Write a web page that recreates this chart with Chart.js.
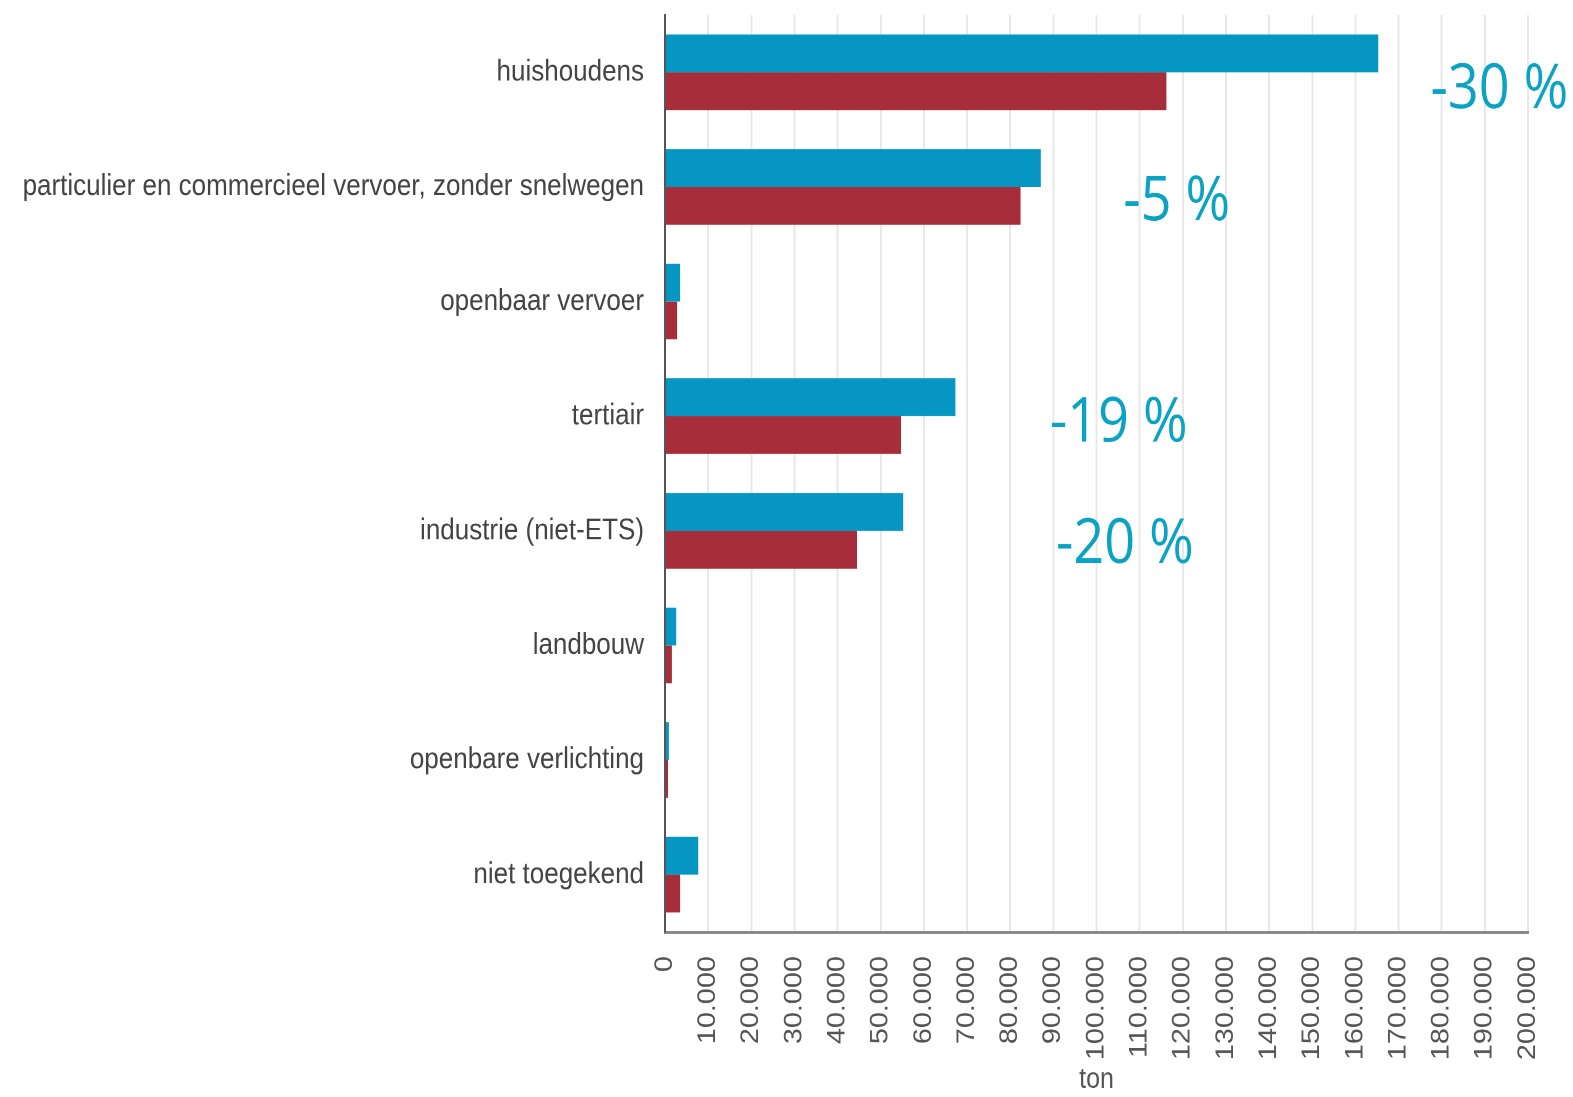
<!DOCTYPE html>
<html>
<head>
<meta charset="utf-8">
<script src="https://cdn.jsdelivr.net/npm/chart.js@4/dist/chart.umd.min.js"></script>
<style>
  html, body { margin: 0; padding: 0; background: #fff; overflow: hidden; }
  #wrap { position: absolute; left: 0; top: 0; width: 1573px; height: 954px;
          transform-origin: 0 0; transform: scaleY(1.1499); }
</style>
</head>
<body>
<div id="wrap"><canvas id="c"></canvas></div>
<script>
// ---- data ----
const categories = [
  "huishoudens",
  "particulier en commercieel vervoer, zonder snelwegen",
  "openbaar vervoer",
  "tertiair",
  "industrie (niet-ETS)",
  "landbouw",
  "openbare verlichting",
  "niet toegekend"
];
const seriesNames = ["referentiejaar", "recent jaar"];
const valuesBefore = [165300, 87100, 3500, 67300, 55200, 2600, 900, 7700];
const valuesAfter  = [116200, 82400, 2800, 54700, 44500, 1600, 700, 3500];
const changeLabels = ["-30 %", "-5 %", "-19 %", "-20 %"];
const changeCategories = ["huishoudens", "particulier en commercieel vervoer, zonder snelwegen", "tertiair", "industrie (niet-ETS)"];
const axisMax = 200000;
const axisStep = 10000;
const axisTitle = "ton";

// ---- annotation placement (style) ----
const annotationPlacement = [
  { x: 177400, dy: 31 },
  { x: 106200, dy: 29 },
  { x: 89200,  dy: 22 },
  { x: 90600,  dy: 28 }
];

const annotationPlugin = {
  id: 'changeLabels',
  afterDatasetsDraw(chart) {
    const ctx = chart.ctx;
    const xs = chart.scales.x, ys = chart.scales.y;
    ctx.save();
    ctx.fillStyle = '#0aa3c4';
    ctx.font = '54px "Open Sans", sans-serif';
    ctx.textAlign = 'left';
    ctx.textBaseline = 'alphabetic';
    changeLabels.forEach((t, i) => {
      const p = annotationPlacement[i];
      const idx = categories.indexOf(changeCategories[i]);
      ctx.fillText(t, xs.getPixelForValue(p.x), ys.getPixelForValue(idx) + p.dy);
    });
    ctx.restore();
  }
};

const fmt = v => String(v).replace(/\B(?=(\d{3})+(?!\d))/g, '.');

new Chart(document.getElementById('c'), {
  type: 'bar',
  data: {
    labels: categories,
    datasets: [
      { label: seriesNames[0], data: valuesBefore, backgroundColor: '#0696c3' },
      { label: seriesNames[1], data: valuesAfter,  backgroundColor: '#a82d3b' }
    ]
  },
  options: {
    indexAxis: 'y',
    responsive: true,
    maintainAspectRatio: false,
    animation: false,
    devicePixelRatio: 2,
    categoryPercentage: 0.66,
    barPercentage: 1.0,
    layout: { padding: { top: 13, right: 45, bottom: 0, left: 0 } },
    plugins: { legend: { display: false }, tooltip: { enabled: false } },
    scales: {
      x: {
        min: 0, max: axisMax,
        ticks: {
          stepSize: axisStep, autoSkip: false,
          minRotation: 90, maxRotation: 90,
          padding: 21,
          color: '#555',
          font: { family: 'Arial, "Liberation Sans", sans-serif', size: 25 },
          callback: v => fmt(v)
        },
        grid: { color: '#e8e8e8', lineWidth: 2, drawTicks: false },
        border: { color: '#888', width: 2.5 },
        title: { display: true, text: axisTitle, color: '#555',
                 font: { family: 'Arial, "Liberation Sans", sans-serif', size: 25 },
                 padding: { top: 4, bottom: 0 } },
        afterFit: s => { s.height = 143.5; s.paddingLeft = 0; s.paddingRight = 0; }
      },
      y: {
        ticks: {
          color: '#444', padding: 21,
          font: { family: 'Arial, "Liberation Sans", sans-serif', size: 26 }
        },
        grid: { display: false, drawTicks: false },
        border: { color: '#555', width: 2 },
        afterFit: s => { s.width = 665; s.paddingTop = 0; s.paddingBottom = 0; }
      }
    }
  },
  plugins: [annotationPlugin]
});
</script>
</body>
</html>
